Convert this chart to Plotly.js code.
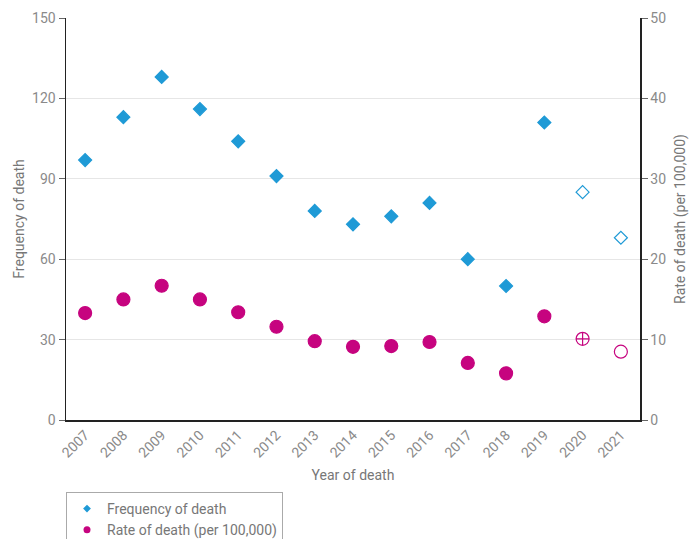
<!DOCTYPE html>
<html><head><meta charset="utf-8">
<script src="https://cdn.plot.ly/plotly-3.0.1.min.js"></script>
<style>body{margin:0;}#c{width:692px;height:539px;}</style>
</head><body><div id="c"></div>
<script>
var years = ['2007','2008','2009','2010','2011','2012','2013','2014','2015','2016','2017','2018','2019','2020','2021'];
var frequency = [97,113,128,116,104,91,78,73,76,81,60,50,111,85,68];
var rate = [13.3,15.0,16.7,15.0,13.4,11.6,9.8,9.1,9.2,9.7,7.1,5.8,12.9,10.1,8.5];
var freqSymbols = ['diamond','diamond','diamond','diamond','diamond','diamond','diamond','diamond','diamond','diamond','diamond','diamond','diamond','diamond-open','diamond-open'];
var rateSymbols = ['circle','circle','circle','circle','circle','circle','circle','circle','circle','circle','circle','circle','circle','circle-cross-open','circle-open'];
var seriesNames = ['Frequency of death','Rate of death (per 100,000)'];

var blue = '#1f9ad6', mag = '#c6047f', grey = '#8a8a8a';
var fnt = 'Roboto, sans-serif';

var traces = [
 {x: years, y: frequency, type:'scatter', mode:'markers', name:seriesNames[0], showlegend:false,
  marker:{symbol:freqSymbols, color:blue, size:10, line:{color:blue, width:1.2}}, yaxis:'y'},
 {x: years, y: rate, type:'scatter', mode:'markers', name:seriesNames[1], showlegend:false,
  marker:{symbol:rateSymbols, color:mag, size:13, line:{color:mag, width:1.2}}, yaxis:'y2'},
 {x:[null], y:[null], type:'scatter', mode:'markers', name:seriesNames[0], marker:{symbol:'diamond', color:blue, size:6}},
 {x:[null], y:[null], type:'scatter', mode:'markers', name:seriesNames[1], marker:{symbol:'circle', color:mag, size:7}}
];
var layout = {
 width:692, height:539, margin:{l:66, r:52, t:18, b:119, autoexpand:false},
 paper_bgcolor:'#fff', plot_bgcolor:'#fff', showlegend:true,
 font:{family:fnt, color:grey, size:14},
 xaxis:{type:'category', range:[-0.5,14.5], tickangle:-45, showgrid:false, showline:true, linecolor:'#222', linewidth:1.5,
  ticks:'', tickfont:{size:14, color:grey}, title:{text:'Year of death', font:{size:14, color:'#777'}, standoff:10}, automargin:false},
 yaxis:{range:[0,150], dtick:30, showgrid:true, gridcolor:'#e6e6e6', showline:true, linecolor:'#222', linewidth:1.5,
  ticks:'outside', ticklen:6, tickcolor:'#666', tickfont:{size:14, color:grey}, zeroline:false, automargin:false,
  title:{text:'Frequency of death', font:{size:14, color:'#777'}, standoff:4}},
 yaxis2:{range:[0,50], dtick:10, overlaying:'y', side:'right', showgrid:false, showline:true, linecolor:'#222', linewidth:1.5,
  ticks:'outside', ticklen:6, tickcolor:'#666', tickfont:{size:14, color:grey}, zeroline:false, automargin:false,
  title:{text:'Rate of death (per 100,000)', font:{size:14, color:'#777'}, standoff:10}},
 legend:{x:0, xanchor:'left', y:-72/402, yanchor:'top', bordercolor:'#aaa', borderwidth:1, bgcolor:'#fff',
  font:{size:14, color:'#777'}, tracegroupgap:0, itemwidth:30}
};
Plotly.newPlot('c', traces, layout, {displayModeBar:false, staticPlot:true});
</script></body></html>
